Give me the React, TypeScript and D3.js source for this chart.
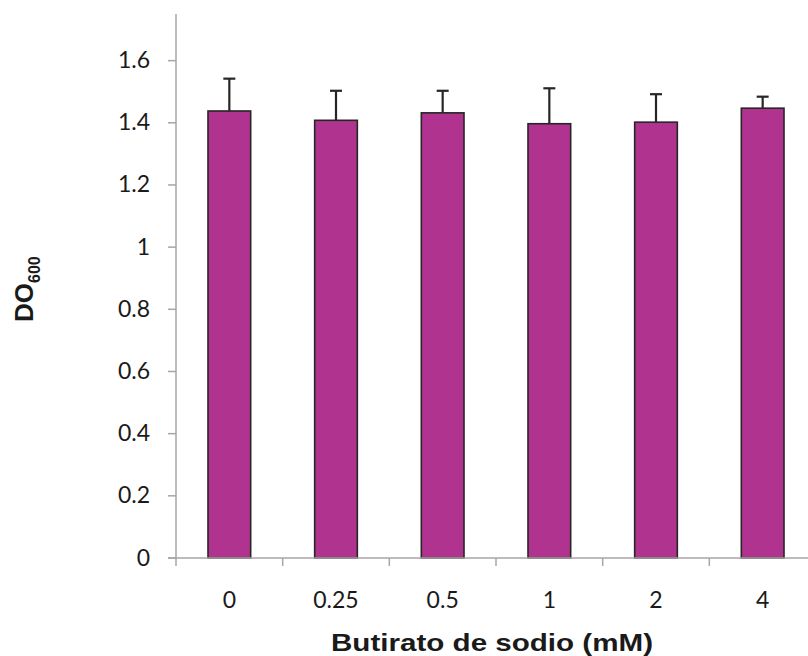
import React from "react";
import * as d3 from "d3";

const categories = ["0", "0.25", "0.5", "1", "2", "4"];
const values = [1.438, 1.408, 1.432, 1.397, 1.402, 1.447];
const errors = [0.104, 0.095, 0.071, 0.114, 0.09, 0.037];
const yTicks = [0, 0.2, 0.4, 0.6, 0.8, 1, 1.2, 1.4, 1.6];

export default function App() {
  const W = 808, H = 656;
  const x0 = 176, x1 = 816, yBottom = 558, yTop = 14;
  const x = d3.scaleBand<string>().domain(categories).range([x0, x1]).padding(0);
  const y = d3.scaleLinear().domain([0, 1.75]).range([yBottom, yTop]);
  const bw = x.bandwidth() * 0.4;
  const axisColor = "#A6A6A6";
  const tickFont = "Lato, 'Open Sans', sans-serif";
  return (
    <svg width={W} height={H} style={{ position: "absolute", left: 0, top: 0, background: "#fff" }}>
      {/* y axis */}
      <line x1={x0} x2={x0} y1={yTop} y2={yBottom} stroke={axisColor} strokeWidth={1.5} />
      {yTicks.map((t) => (
        <g key={t}>
          <line x1={x0 - 8} x2={x0} y1={y(t)} y2={y(t)} stroke={axisColor} strokeWidth={1.5} />
          <text x={150} y={y(t) + 7.5} textAnchor="end" fontFamily={tickFont} fontSize={23} fill="#1a1a1a">
            {d3.format("~g")(t)}
          </text>
        </g>
      ))}
      {/* bars */}
      {categories.map((c, i) => {
        const cx = (x(c) as number) + x.bandwidth() / 2;
        return (
          <g key={c}>
            <line x1={cx} x2={cx} y1={y(values[i])} y2={y(values[i] + errors[i])} stroke="#262626" strokeWidth={2.2} />
            <line x1={cx - 6} x2={cx + 6} y1={y(values[i] + errors[i])} y2={y(values[i] + errors[i])} stroke="#262626" strokeWidth={2.2} />
            <rect x={cx - bw / 2} y={y(values[i])} width={bw} height={yBottom - y(values[i])} fill="#B0338F" stroke="#262626" strokeWidth={1.6} />
          </g>
        );
      })}
      {/* x axis */}
      <line x1={x0 - 8} x2={x1} y1={yBottom} y2={yBottom} stroke={axisColor} strokeWidth={1.5} />
      {categories.map((c) => (
        <line key={c} x1={x(c) as number} x2={x(c) as number} y1={yBottom} y2={yBottom + 8} stroke={axisColor} strokeWidth={1.5} />
      ))}
      {categories.map((c) => (
        <text key={c} x={(x(c) as number) + x.bandwidth() / 2} y={608} textAnchor="middle" fontFamily={tickFont} fontSize={23} fill="#1a1a1a">
          {c}
        </text>
      ))}
      <text x={492} y={651} textAnchor="middle" textLength={322} lengthAdjust="spacingAndGlyphs" fontFamily="'Liberation Sans', Arial, sans-serif" fontWeight="bold" fontSize={24} fill="#1a1a1a">
        Butirato de sodio (mM)
      </text>
      <text transform="translate(33,322) rotate(-90)" fontFamily="'Liberation Sans', Arial, sans-serif" fontWeight="bold" fontSize={26} fill="#1a1a1a">
        DO<tspan fontSize={16} dy={7}>600</tspan>
      </text>
    </svg>
  );
}
